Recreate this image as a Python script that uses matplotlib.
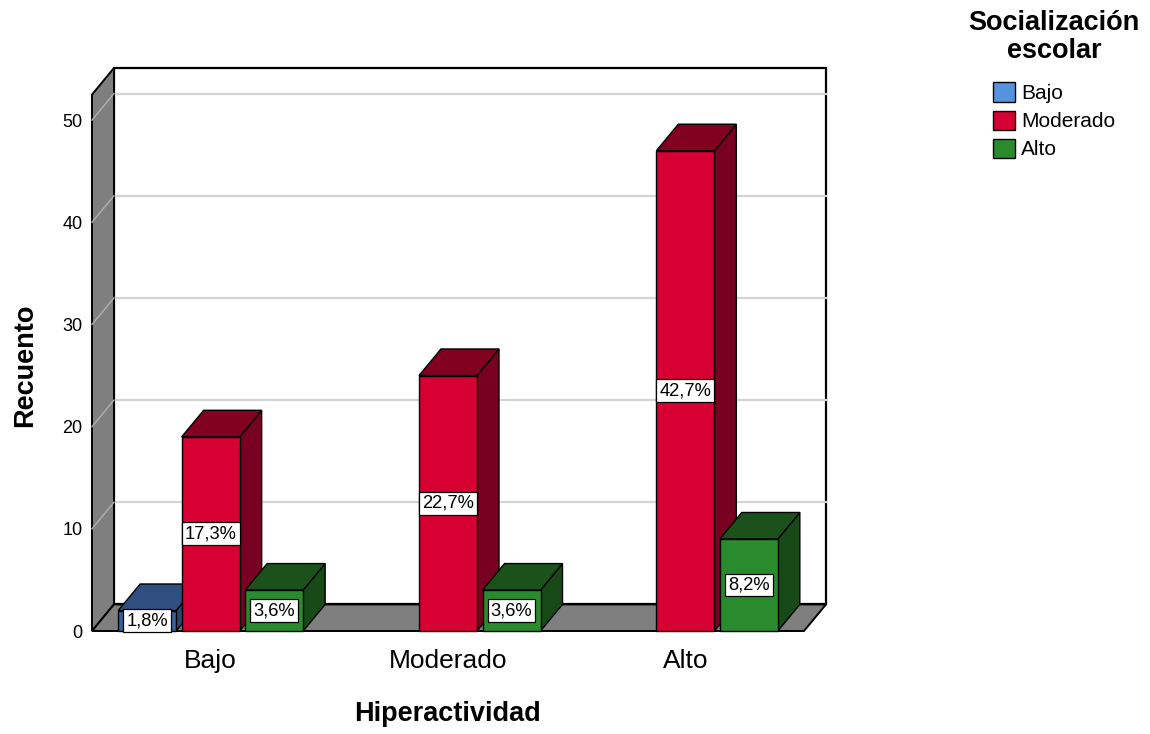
import matplotlib
matplotlib.use("Agg")
import matplotlib.pyplot as plt
from matplotlib.patches import Polygon, Rectangle, Patch

plt.rcParams['font.family'] = ['Liberation Sans', 'DejaVu Sans']

# ---- data ----
categories = ["Bajo", "Moderado", "Alto"]          # Hiperactividad
series = ["Bajo", "Moderado", "Alto"]              # Socialización escolar
counts_bajo = [2, 0, 0]
counts_moderado = [19, 25, 47]
counts_alto = [4, 4, 9]
total_n = 110
yticks = [0, 10, 20, 30, 40, 50]

values = [counts_bajo, counts_moderado, counts_alto]
front_cols = ["#3A6098", "#D70033", "#2A8A2E"]
dark_cols = ["#2E4F80", "#820020", "#1B521B"]
side_cols = ["#2A4874", "#780020", "#184A18"]
legend_cols = ["#5693DE", "#D70033", "#2B8A2B"]

W, H = 1150, 734
fig = plt.figure(figsize=(W / 100, H / 100), dpi=100)
# axes in pixel coordinates
L, R, T, B = 92, 826, 68, 631
ax = fig.add_axes([L / W, 1 - B / H, (R - L) / W, (B - T) / H])

n = len(categories)
DXPX = 22
DX = DXPX / (R - L - DXPX) * n
YTOP = 52.5
DY = 2.6
ax.set_xlim(-0.5, n - 0.5 + DX)
ax.set_ylim(0, YTOP + DY)
for s in ax.spines.values():
    s.set_visible(False)
ax.patch.set_visible(False)

x0w, x1w = -0.5, n - 0.5
grey = "#7F7F7F"
# back wall
ax.add_patch(Rectangle((x0w + DX, DY), n, YTOP, fc="white", ec="black",
                       lw=1.6, zorder=1, clip_on=False))
# gridlines on back wall and left wall
for v in yticks[1:]:
    ax.plot([x0w + DX, x1w + DX], [v + DY, v + DY], color="#D4D4D4", lw=1.6,
            zorder=2, clip_on=False)
# left wall
ax.add_patch(Polygon([(x0w, 0), (x0w, YTOP), (x0w + DX, YTOP + DY), (x0w + DX, DY)],
                     closed=True, fc=grey, ec="black", lw=1.4, zorder=3, clip_on=False))
for v in yticks[1:]:
    ax.plot([x0w, x0w + DX], [v, v + DY], color="#B0B0B0", lw=1.0, zorder=3.5,
            clip_on=False)
# floor
ax.add_patch(Polygon([(x0w, 0), (x1w, 0), (x1w + DX, DY), (x0w + DX, DY)],
                     closed=True, fc=grey, ec="black", lw=1.4, zorder=3, clip_on=False))

# bars
pitch = 63.5 / ((R - L - DXPX) / n)
bw = 58 / ((R - L - DXPX) / n)
z = 5
for i in range(n):
    for j in range(len(series)):
        h = values[j][i]
        if h <= 0:
            continue
        xc = i + (j - 1) * pitch
        xa, xb = xc - bw / 2, xc + bw / 2
        ax.add_patch(Polygon([(xb, 0), (xb + DX, DY), (xb + DX, h + DY), (xb, h)],
                             closed=True, fc=side_cols[j], ec="black", lw=1.0,
                             zorder=z, clip_on=False))
        ax.add_patch(Polygon([(xa, h), (xb, h), (xb + DX, h + DY), (xa + DX, h + DY)],
                             closed=True, fc=dark_cols[j], ec="black", lw=1.0,
                             zorder=z + 0.1, clip_on=False))
        ax.add_patch(Rectangle((xa, 0), bw, h, fc=front_cols[j], ec="black", lw=1.0,
                               zorder=z + 0.2, clip_on=False))
        z += 1
        pct = 100 * h / total_n
        ax.text(xc, h / 2, f"{pct:.1f}%".replace(".", ","), ha="center", va="center",
                fontsize=13.2, zorder=50,
                bbox=dict(boxstyle="square,pad=0.16", fc="white", ec="black", lw=0.9))

# ticks
ax.set_yticks(yticks)
ax.set_yticklabels([str(v) for v in yticks], fontsize=13)
ax.set_xticks(range(n))
ax.set_xticklabels(categories, fontsize=19)
ax.tick_params(axis="y", length=0, pad=7)
ax.tick_params(axis="x", length=0, pad=13)

# axis titles
fig.text((L + 804) / 2 / W, 1 - 714 / H, "Hiperactividad", ha="center", va="center",
         fontsize=19.5, fontweight="bold")
fig.text(25 / W, 1 - 365 / H, "Recuento", ha="center", va="center", rotation=90,
         fontsize=19.5, fontweight="bold")

# legend
handles = [Patch(facecolor=c, edgecolor="black", lw=1.0) for c in legend_cols]
leg = fig.legend(handles, series, loc="upper center",
                 bbox_to_anchor=(1054 / W, 1 - 10 / H), frameon=False,
                 fontsize=15, title="Socialización\nescolar",
                 title_fontproperties={"size": 19.5, "weight": "bold"},
                 handlelength=1.05, handleheight=1.05, handletextpad=0.3,
                 labelspacing=0.35, borderpad=0, borderaxespad=0)
leg.get_title().set_multialignment("center")
leg.get_title().set_linespacing(1.12)
leg._legend_box.sep = 13

fig.savefig("out.png", dpi=100)
